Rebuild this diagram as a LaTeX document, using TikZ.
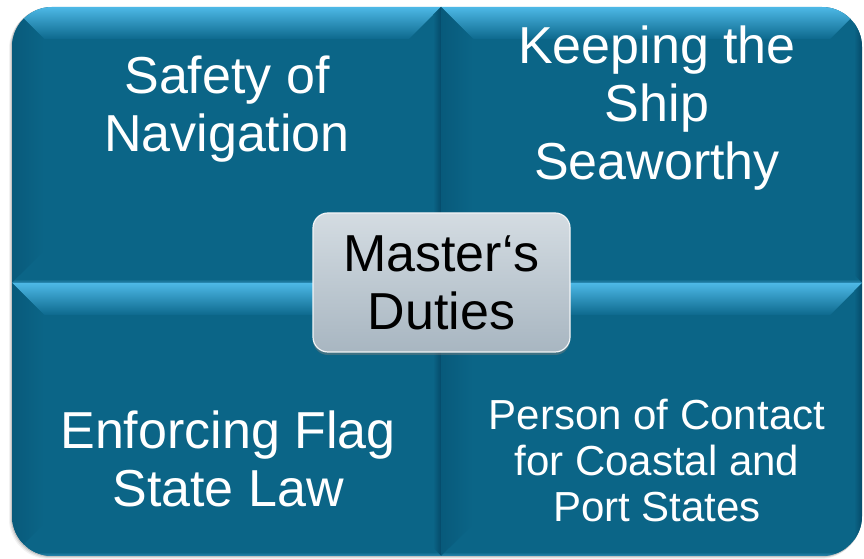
\documentclass[tikz,border=0pt]{standalone}
\usepackage{fontspec}
\setmainfont{Liberation Sans}
\usetikzlibrary{shadows}

% palette of the bevelled panels
\definecolor{panel}{HTML}{0B6587}
\definecolor{panellight}{HTML}{4DB8E6}
\definecolor{panelmid}{HTML}{1676A0}
\definecolor{panelsoft}{HTML}{0D698D}
\definecolor{paneldark}{HTML}{085A7B}
\definecolor{panelline}{HTML}{054A69}
\definecolor{paneledge}{HTML}{2A88B0}
\definecolor{silvertop}{HTML}{D4DCE2}
\definecolor{silverbot}{HTML}{A8B6C1}

\tikzset{
  paneltext/.style={text=white, align=center, inner sep=0pt,
    font=\fontsize{52}{58}\selectfont},
  smalltext/.style={paneltext, font=\fontsize{42}{46}\selectfont},
  hubbox/.style={rounded corners=15pt, top color=silvertop, bottom color=silverbot,
    draw=white!85!silverbot, line width=1.2pt,
    drop shadow={shadow xshift=0pt, shadow yshift=-3pt, opacity=.45},
    minimum width=257pt, minimum height=139pt, inner sep=0pt, align=center,
    font=\fontsize{52}{58}\selectfont, text=black},
}

% bevelled panel: #1 = outline path, #2..#5 = left, bottom, right, top
\newcommand{\bevelpanel}[5]{%
  \begin{scope}
    \clip #1;
    \fill[panel] (#2,#3) rectangle (#4,#5);
    % top bevel
    \shade[top color=panellight, middle color=panelmid, bottom color=panelsoft]
      (#2,#5) -- (#4,#5) -- ([xshift=-32pt,yshift=-32pt]#4,#5) -- ([xshift=32pt,yshift=-32pt]#2,#5) -- cycle;
    % left bevel
    \shade[left color=paneldark, right color=panel]
      (#2,#3) -- ([xshift=32pt,yshift=32pt]#2,#3) -- ([xshift=32pt,yshift=-32pt]#2,#5) -- (#2,#5) -- cycle;
    % right bevel
    \shade[left color=panel, right color=panelline]
      (#4,#3) -- ([xshift=-8pt,yshift=8pt]#4,#3) -- ([xshift=-8pt,yshift=-8pt]#4,#5) -- (#4,#5) -- cycle;
    % bottom bevel
    \shade[bottom color=paneledge, top color=panel, middle color=panel]
      (#2,#3) -- (#4,#3) -- ([xshift=-8pt,yshift=8pt]#4,#3) -- ([xshift=8pt,yshift=8pt]#2,#3) -- cycle;
  \end{scope}}

\begin{document}
\begin{tikzpicture}[x=1pt,y=1pt]
  \useasboundingbox (0,0) rectangle (864,559);

  % soft shadow under the whole block
  \foreach \d/\o in {3/.05,2/.08,1/.12}
    \fill[black, opacity=\o, rounded corners=40pt]
      (12-\d,3-\d) rectangle (862-\d+1,552-\d+1);

  % four panels
  \bevelpanel{(12,276) -- (12,512) arc[start angle=180,end angle=90,radius=40] -- (441,552) -- (441,276) -- cycle}{12}{276}{441}{552}
  \bevelpanel{(441,276) -- (441,552) -- (822,552) arc[start angle=90,end angle=0,radius=40] -- (862,276) -- cycle}{441}{276}{862}{552}
  \bevelpanel{(12,276) -- (441,276) -- (441,3) -- (52,3) arc[start angle=270,end angle=180,radius=40] -- cycle}{12}{3}{441}{276}
  \bevelpanel{(441,276) -- (862,276) -- (862,43) arc[start angle=0,end angle=-90,radius=40] -- (441,3) -- cycle}{441}{3}{862}{276}

  % panel texts (anchored at the baseline of their last line)
  \node[paneltext, anchor=base] (nav) at (227,407) {Safety of\\Navigation};
  \node[paneltext, anchor=base] (sea) at (657,379) {Keeping the\\Ship\\Seaworthy};
  \node[paneltext, anchor=base] (flag) at (228,52) {Enforcing Flag\\State Law};
  \node[smalltext, anchor=base] (port) at (657,37) {Person of Contact\\for Coastal and\\Port States};

  % central hub
  \node[hubbox] (hub) at (441.5,276.5) {Master‘s\\Duties};
\end{tikzpicture}
\end{document}
